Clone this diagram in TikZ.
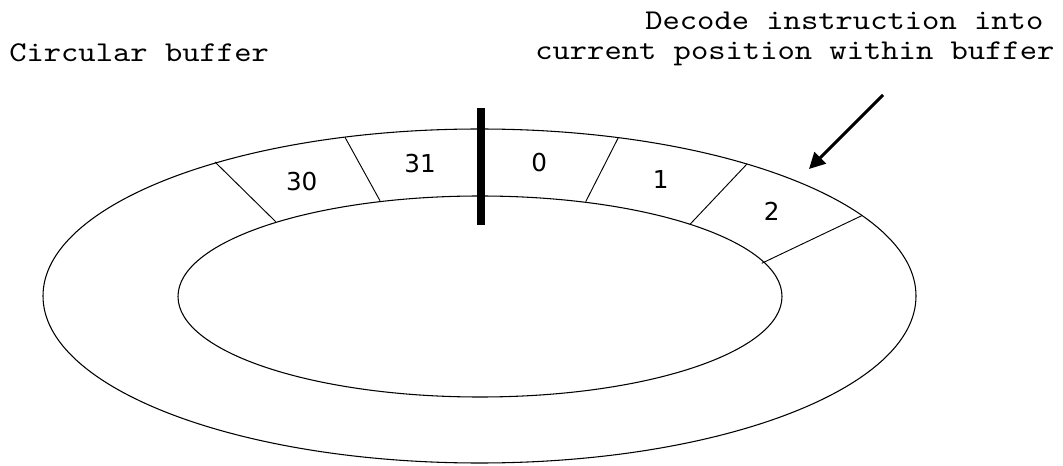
\documentclass[tikz,border=0pt]{standalone}
\usepackage{fontspec}
\newfontfamily\capfont[FakeStretch=1.15]{lmmono10-regular.otf}
\newfontfamily\digitfont{DejaVu Sans}
\usetikzlibrary{arrows.meta}
\begin{document}
\begin{tikzpicture}[x=0.75pt,y=-0.75pt,
  ring/.style={draw=black,line width=0.8pt},
  divider/.style={draw=black,line width=0.7pt},
  slot/.style={font=\digitfont\fontsize{18.5pt}{20pt}\selectfont,inner sep=0pt,anchor=center},
  caption/.style={font=\capfont\fontsize{21.5pt}{24pt}\selectfont,inner sep=0pt,anchor=base west},
  pointer/.style={draw=black,line width=2.3pt,-{Triangle[length=12pt,width=12pt]}},
  marker/.style={draw=black,line width=6pt}]
\useasboundingbox (0,0) rectangle (1063,466);
% ellipses
\draw[ring] (479.5,296) ellipse [x radius=436.5, y radius=167];
\draw[ring] (480,296.5) ellipse [x radius=302, y radius=100.5];
% dividers
\coordinate (o1) at (215,162);   \coordinate (i1) at (275.7,221.7);
\coordinate (o2) at (345,137.3); \coordinate (i2) at (380,200.7);
\coordinate (o3) at (618.3,137.7); \coordinate (i3) at (585.7,201.7);
\coordinate (o4) at (746.7,164.3); \coordinate (i4) at (690,224.3);
\coordinate (o5) at (861.7,215.7); \coordinate (i5) at (761.7,263.3);
\draw[divider] (o1) -- (i1);
\draw[divider] (o2) -- (i2);
\draw[divider] (o3) -- (i3);
\draw[divider] (o4) -- (i4);
\draw[divider] (o5) -- (i5);
% current position marker
\coordinate (mtop) at (481,108);
\coordinate (mbot) at (481,225);
\draw[marker] (mtop) -- (mbot);
% slot labels
\node[slot] (s30) at (301.7,181.7) {30};
\node[slot] (s31) at (420,164) {31};
\node[slot] (s0) at (539.3,162.7) {0};
\node[slot] (s1) at (660.7,179.3) {1};
\node[slot] (s2) at (771.7,211.7) {2};
% captions
\node[caption] (cb) at (9,62) {Circular buffer};
\node[caption] (d1) at (645,30) {Decode instruction into};
\node[caption] (d2) at (535,60) {current position within buffer};
% arrow
\coordinate (astart) at (883,95);
\coordinate (aend) at (809,169);
\draw[pointer] (astart) -- (aend);
\end{tikzpicture}
\end{document}
